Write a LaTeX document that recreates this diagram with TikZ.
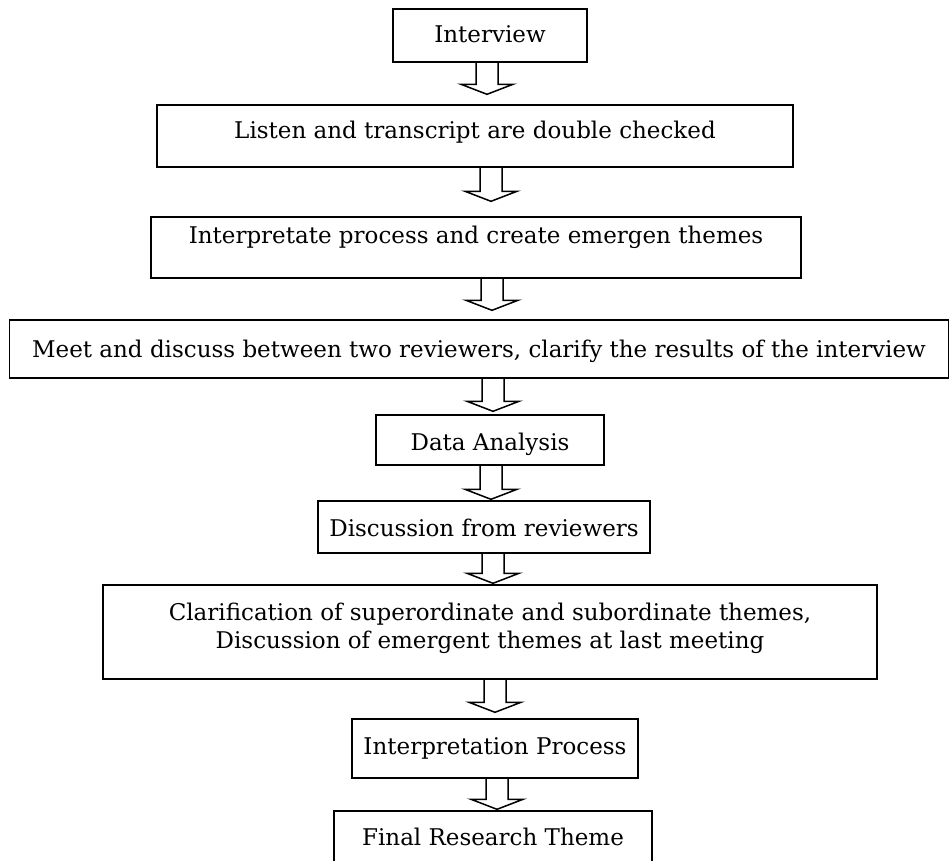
\documentclass[tikz,border=0pt]{standalone}
\usepackage{fontspec}
\setmainfont{DejaVu Serif}
\usetikzlibrary{calc}
\tikzset{
  every picture/.style={line width=1.4pt},
  box/.style={draw, inner sep=0pt, anchor=base, align=center},
  hollow/.style={draw, line width=1.5pt, line join=miter},
}

\begin{document}
\begin{tikzpicture}[x=1pt, y=-1pt, every node/.append style={font=\fontsize{23}{28}\selectfont}]
  \useasboundingbox (0,0) rectangle (952,861);
  \node[box, minimum width=194pt, text height=34pt, text depth=19pt] (iv) at (490,43) {Interview};
  \node[box, minimum width=636pt, text height=34pt, text depth=28pt] (lt) at (475,139) {Listen and transcript are double checked};
  \node[box, minimum width=650pt, text height=26pt, text depth=35pt] (ip) at (476,243) {Interpretate process and create emergen themes};
  \node[box, minimum width=939pt, text height=37pt, text depth=21pt] (md) at (479,357) {Meet and discuss between two reviewers, clarify the results of the interview};
  \node[box, minimum width=228pt, text height=35pt, text depth=15pt] (da) at (490,450) {Data Analysis};
  \node[box, minimum width=332pt, text height=35pt, text depth=17pt] (dr) at (484,536) {Discussion from reviewers};
  \node[box, minimum width=774pt, text height=63pt, text depth=31pt] (cl) at (490,648) {Clarification of superordinate and subordinate themes,\\Discussion of emergent themes at last meeting};
  \node[box, minimum width=286pt, text height=35pt, text depth=24pt] (pr) at (495,754) {Interpretation Process};
  \node[box, minimum width=318pt, text height=34pt, text depth=25pt] (fr) at (493,845) {Final Research Theme};
  % block arrows between the steps
  \foreach \from/\to/\ax/\gap in {iv/lt/487/10, lt/ip/491/15, ip/md/492/9, md/da/493/3, da/dr/491/1, dr/cl/493/1, cl/pr/495/6, pr/fr/497/1}
    \draw[hollow] let \p1=(\from.south), \p2=($(\to.north)+(0,-\gap)$) in
      ({\ax pt-11pt},\y1) -- ({\ax pt-11pt},{\y2+10pt}) -- ({\ax pt-26pt},{\y2+10pt}) -- (\ax pt,\y2)
      -- ({\ax pt+26pt},{\y2+10pt}) -- ({\ax pt+11pt},{\y2+10pt}) -- ({\ax pt+11pt},\y1);
\end{tikzpicture}
\end{document}
